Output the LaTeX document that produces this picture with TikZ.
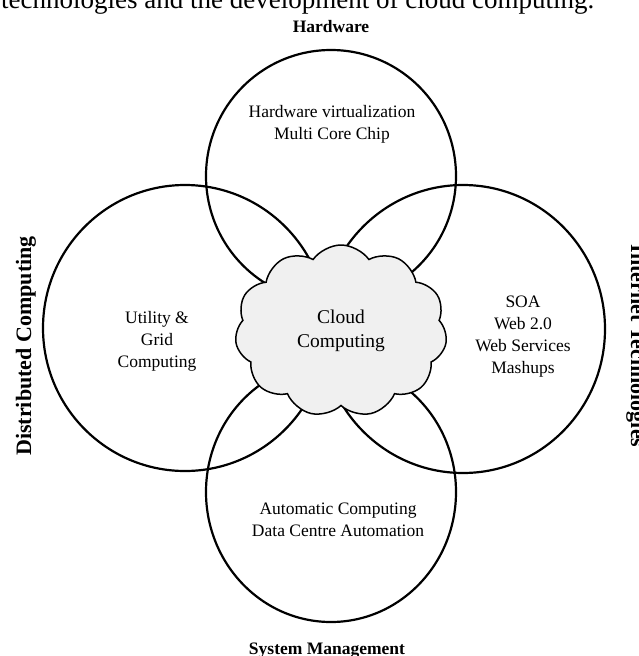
\documentclass[tikz,border=0pt]{standalone}
\usepackage{fontspec}
\setmainfont{Liberation Serif}
\usetikzlibrary{shapes.symbols}
\tikzset{
  ring/.style={line width=2.2pt},
  ringtext/.style={align=center,font=\fontsize{17.5}{22}\selectfont},
  sidelabel/.style={font=\bfseries\fontsize{22}{26}\selectfont},
  endlabel/.style={font=\bfseries\fontsize{17.5}{21}\selectfont},
  cloudbox/.style={cloud,cloud puffs=11,cloud puff arc=110,cloud ignores aspect,
    draw,line width=1.5pt,fill=gray!12,minimum width=212pt,minimum height=172pt,
    align=center,font=\fontsize{19.5}{24}\selectfont}
}
\begin{document}
\begin{tikzpicture}[x=1pt,y=-1pt]
  \useasboundingbox (0,0) rectangle (638,656);

  % caption line cut off at the top
  \node[anchor=base west,inner sep=0pt,font=\fontsize{27}{30}\selectfont] (caption) at (1,8)
    {technologies and the development of cloud computing.};

  % the four rings
  \draw[ring] (331,176) ellipse [x radius=125pt,y radius=126pt];
  \draw[ring] (185,328) ellipse [x radius=142pt,y radius=143pt];
  \draw[ring] (463,329) ellipse [x radius=142pt,y radius=144pt];
  \draw[ring] (331,492) ellipse [x radius=125pt,y radius=130pt];

  \node[ringtext] (hwtext) at (332,124) {Hardware virtualization\\Multi Core Chip};
  \node[ringtext] (dctext) at (157,341) {Utility \&\\Grid\\Computing};
  \node[ringtext] (ittext) at (523,337) {SOA\\Web 2.0\\Web Services\\Mashups};
  \node[ringtext] (smtext) at (338,520) {Automatic Computing\\Data Centre Automation};

  \node[cloudbox] (cloud) at (341,331) {Cloud\\Computing};

  % outer labels
  \node[endlabel,anchor=base] (hw) at (331,32) {Hardware};
  \node[endlabel,anchor=base] (sm) at (327,654) {System Management};
  \node[sidelabel,rotate=90,anchor=base] (dc) at (31,346) {Distributed Computing};
  \node[sidelabel,rotate=-90,anchor=base] (it) at (631,346) {Internet Technologies};

\end{tikzpicture}
\end{document}
